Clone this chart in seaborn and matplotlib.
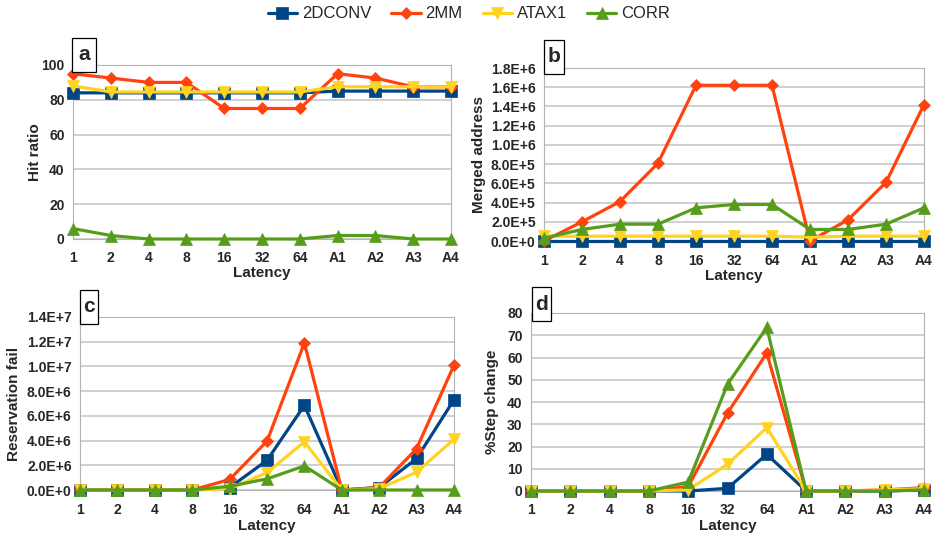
#!/usr/bin/env python3
"""Four-panel latency sweep: hit ratio, merged address, reservation fail, step change."""

import matplotlib
matplotlib.use("Agg")
import matplotlib.pyplot as plt
import matplotlib.ticker as ticker
from matplotlib.patches import Rectangle
import pandas as pd
import seaborn as sns

LATENCY = ["1", "2", "4", "8", "16", "32", "64", "A1", "A2", "A3", "A4"]
BENCHES = ["2DCONV", "2MM", "ATAX1", "CORR"]

# (a) hit ratio
HIT_2DCONV = [84, 84, 84, 84, 84, 84, 84, 85, 85, 85, 85]
HIT_2MM = [95, 92.5, 90, 90, 75, 75, 75, 95, 92.5, 87.5, 87.5]
HIT_ATAX1 = [88, 84.5, 84.5, 84.5, 84.5, 84.5, 84.5, 87.5, 87.5, 87.5, 87.5]
HIT_CORR = [6, 2, 0, 0, 0, 0, 0, 2, 2, 0, 0]

# (b) merged address
MERGE_2DCONV = [0, 0, 0, 0, 0, 0, 0, 0, 0, 0, 0]
MERGE_2MM = [0, 2.0e5, 4.1e5, 8.1e5, 1.62e6, 1.62e6, 1.62e6, 0, 2.2e5, 6.1e5, 1.42e6]
MERGE_ATAX1 = [5e4, 5e4, 5e4, 5e4, 5e4, 5e4, 5e4, 4e4, 5e4, 5e4, 5e4]
MERGE_CORR = [3e4, 1.2e5, 1.75e5, 1.75e5, 3.45e5, 3.8e5, 3.8e5, 1.2e5, 1.2e5, 1.75e5, 3.45e5]

# (c) reservation fail
RES_2DCONV = [0, 0, 0, 0, 2e5, 2.4e6, 6.85e6, 0, 2e5, 2.55e6, 7.3e6]
RES_2MM = [0, 0, 0, 0, 8.5e5, 3.95e6, 1.19e7, 0, 2e5, 3.35e6, 1.01e7]
RES_ATAX1 = [0, 0, 0, 0, 1e5, 1.4e6, 3.9e6, 0, 1e5, 1.45e6, 4.1e6]
RES_CORR = [0, 0, 0, 0, 3e5, 9e5, 1.95e6, 0, 0, 0, 0]

# (d) % step change
STEP_2DCONV = [0, 0, 0, 0, 0, 1.2, 16.5, 0, 0, 0, 0.5]
STEP_2MM = [0, 0, 0, 0, 2, 35, 62, 0, 0, 0.5, 1.5]
STEP_ATAX1 = [0, 0, 0, 0, 0.5, 12, 28.5, 0, 0, 0.5, 1]
STEP_CORR = [0, 0, 0, 0, 4, 48, 73.5, 0, 0, 0, 0.5]

COLORS = {"2DCONV": "#004586", "2MM": "#ff420e", "ATAX1": "#ffd320", "CORR": "#579d1c"}
MARKERS = {"2DCONV": "s", "2MM": "D", "ATAX1": "v", "CORR": "^"}
MSIZE = {"2DCONV": 8.5, "2MM": 6.5, "ATAX1": 8.5, "CORR": 8.5}

W, H = 938, 538


def sci(v, _pos):
    if v == 0:
        return "0.0E+0"
    mant, exp = f"{v:.1E}".split("E")
    return f"{mant}E+{int(exp)}"


def make_df(series):
    rows = []
    for bench, vals in zip(BENCHES, series):
        for i, v in enumerate(vals):
            rows.append({"pos": i, "value": v, "bench": bench})
    return pd.DataFrame(rows)


def draw(fig, ax, rect_px, series, ylabel, ymax, ystep, tag, box, ylab_x, xlab_y, fmt=None):
    df = make_df(series)
    for bench in BENCHES:
        sub = df[df["bench"] == bench]
        sns.lineplot(
            data=sub, x="pos", y="value", ax=ax,
            color=COLORS[bench], marker=MARKERS[bench], markersize=MSIZE[bench],
            markeredgewidth=0.5, markeredgecolor=COLORS[bench],
            linewidth=2.3, clip_on=False, zorder=3, label=bench, legend=False,
        )
    ax.set_xlim(0, len(LATENCY) - 1)
    ax.set_ylim(0, ymax)
    ax.set_xticks(range(len(LATENCY)))
    ax.set_xticklabels(LATENCY)
    ax.yaxis.set_major_locator(ticker.MultipleLocator(ystep))
    if fmt is not None:
        ax.yaxis.set_major_formatter(ticker.FuncFormatter(fmt))
    ax.grid(True, axis="y", color="#c8c8c8", linewidth=1.2)
    ax.grid(False, axis="x")
    for sp in ax.spines.values():
        sp.set_color("#b3b3b3")
    ax.tick_params(axis="both", length=4, width=1, color="#b3b3b3", direction="out",
                   labelsize=10)
    ax.tick_params(axis="y", pad=2)
    ax.tick_params(axis="x", pad=5)
    for lab in ax.get_xticklabels() + ax.get_yticklabels():
        lab.set_fontweight("bold")
    ax.set_xlabel("Latency", fontsize=11, fontweight="bold")
    ax.set_ylabel(ylabel, fontsize=11, fontweight="bold")

    # axis-title positions given in pixels
    left, top, right, bottom = rect_px
    ax.yaxis.set_label_coords((ylab_x - left) / (right - left), 0.5)
    ax.yaxis.label.set_va("center")
    ax.xaxis.set_label_coords(0.5, (bottom - xlab_y) / (bottom - top))
    ax.xaxis.label.set_va("center")

    # panel tag box, given in pixel coordinates
    x0, y0, x1, y1 = box
    rect = Rectangle((x0 / W, 1 - y1 / H), (x1 - x0) / W, (y1 - y0) / H,
                     transform=fig.transFigure, facecolor="white",
                     edgecolor="black", linewidth=0.9, zorder=10)
    fig.patches.append(rect)
    fig.text((x0 + x1) / 2 / W, 1 - (y0 + y1) / 2 / H, tag, fontsize=15,
             fontweight="bold", ha="center", va="center", zorder=11)


def px_axes(left, top, right, bottom):
    return [left / W, 1 - bottom / H, (right - left) / W, (bottom - top) / H]


def main():
    sns.set_style("white")
    plt.rcParams["font.family"] = ["Liberation Sans", "DejaVu Sans"]

    fig = plt.figure(figsize=(9.38, 5.38), dpi=100)
    ra = (73, 65, 451, 239)
    rb = (544, 68, 924, 241)
    rc = (80, 317, 454, 490)
    rd = (531, 313, 924, 491)
    ax_a = fig.add_axes(px_axes(*ra))
    ax_b = fig.add_axes(px_axes(*rb))
    ax_c = fig.add_axes(px_axes(*rc))
    ax_d = fig.add_axes(px_axes(*rd))

    draw(fig, ax_a, ra, [HIT_2DCONV, HIT_2MM, HIT_ATAX1, HIT_CORR], "Hit ratio",
         100, 20, "a", (72, 38, 96, 72), 35, 273)
    draw(fig, ax_b, rb, [MERGE_2DCONV, MERGE_2MM, MERGE_ATAX1, MERGE_CORR], "Merged address",
         1.8e6, 2e5, "b", (544, 40, 564, 74), 479, 276, sci)
    draw(fig, ax_c, rc, [RES_2DCONV, RES_2MM, RES_ATAX1, RES_CORR], "Reservation fail",
         1.4e7, 2e6, "c", (80, 290, 98, 324), 14, 526, sci)
    draw(fig, ax_d, rd, [STEP_2DCONV, STEP_2MM, STEP_ATAX1, STEP_CORR], "%Step change",
         80, 10, "d", (532, 287, 551, 321), 492, 526)

    handles, labels = ax_a.get_legend_handles_labels()
    fig.legend(handles, labels, loc="center", ncol=4, frameon=False,
               fontsize=12, bbox_to_anchor=(0.5, 1 - 14 / H), handlelength=1.75,
               columnspacing=1.2, handletextpad=0.3)

    fig.savefig("out.png", dpi=100)
    plt.close(fig)


if __name__ == "__main__":
    main()
